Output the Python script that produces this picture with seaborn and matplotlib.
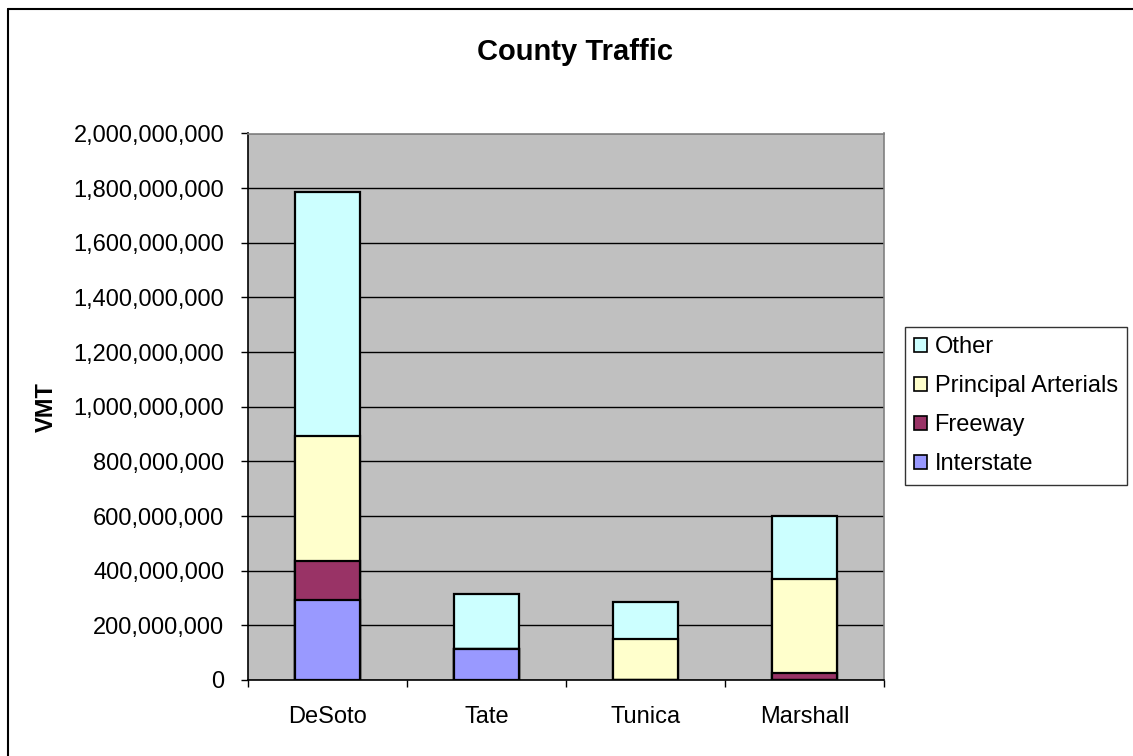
import matplotlib
matplotlib.use("Agg")
import matplotlib.pyplot as plt
import numpy as np
import pandas as pd
import seaborn as sns
from matplotlib.lines import Line2D
from matplotlib.patches import Patch
from matplotlib.ticker import FuncFormatter, FixedLocator

counties = ["DeSoto", "Tate", "Tunica", "Marshall"]
interstate = [293_000_000, 114_000_000, 0, 0]
freeway = [143_000_000, 0, 0, 25_000_000]
principal_arterials = [456_000_000, 0, 149_000_000, 343_000_000]
other = [893_000_000, 200_000_000, 137_000_000, 234_000_000]

series_names = ["Interstate", "Freeway", "Principal Arterials", "Other"]
series_colors = ["#9999FF", "#993366", "#FFFFCC", "#CCFFFF"]
y_ticks = np.arange(0, 2_000_000_001, 200_000_000)

df = pd.DataFrame(
    {"County": counties, "Interstate": interstate, "Freeway": freeway,
     "Principal Arterials": principal_arterials, "Other": other}
)
# cumulative tops, drawn tallest first so each layer covers the one above it
cum = df[series_names].cumsum(axis=1)

sns.set_theme(style="white")
plt.rcParams["font.family"] = ["Liberation Sans", "DejaVu Sans"]

W, H = 1133, 756
fig = plt.figure(figsize=(W / 100, H / 100), dpi=100)
ax = fig.add_axes([248 / W, 1 - 680 / H, 636 / W, (680 - 133.5) / H])
ax.set_facecolor("#C0C0C0")

for name, color in reversed(list(zip(series_names, series_colors))):
    sns.barplot(
        x=df["County"], y=cum[name], ax=ax, color=color, width=0.41,
        edgecolor="black", linewidth=1.6, saturation=1, zorder=3,
    )

ax.set_xlim(-0.5, 3.5)
ax.set_ylim(0, 2_000_000_000)
ax.yaxis.set_major_locator(FixedLocator(y_ticks))
ax.yaxis.set_major_formatter(FuncFormatter(lambda v, p: f"{int(v):,}"))
ax.grid(axis="y", color="black", linewidth=1.0, zorder=1)
ax.set_axisbelow(True)

ax.set_xticks(range(len(counties)))
ax.set_xticklabels(counties)
ax.xaxis.set_minor_locator(FixedLocator(np.arange(-0.5, 4, 1)))
ax.tick_params(axis="x", which="major", length=0, pad=19, labelsize=17, colors="black")
ax.tick_params(axis="x", which="minor", length=5, width=1, color="black", direction="out", bottom=True)
ax.tick_params(axis="y", length=5, width=1, color="black", direction="out", left=True, pad=12,
               labelsize=17, labelcolor="black")

ax.set_xlabel("")
ax.set_ylabel("VMT", fontsize=17, fontweight="bold", color="black")
ax.yaxis.set_label_coords((58 - 248) / 636, 0.5)

for side in ["left", "bottom"]:
    ax.spines[side].set_color("black")
    ax.spines[side].set_linewidth(1.2)
for side in ["top", "right"]:
    ax.spines[side].set_color("#808080")
    ax.spines[side].set_linewidth(1.2)

fig.text(575 / W, 1 - 52 / H, "County Traffic", fontsize=21, fontweight="bold",
         ha="center", va="center", color="black")

handles = [Patch(facecolor=c, edgecolor="black", linewidth=1.2, label=n)
           for n, c in zip(series_names, series_colors)][::-1]
leg = fig.legend(
    handles=handles, loc="upper left", bbox_to_anchor=(905 / W, 1 - 327 / H),
    frameon=True, fancybox=False, fontsize=17, handlelength=0.55, handleheight=0.55,
    handletextpad=0.3, labelspacing=0.72, borderpad=0.4, borderaxespad=0,
    labelcolor="black",
)
leg.get_frame().set_edgecolor("black")
leg.get_frame().set_linewidth(1.0)

# chart-area border: only top and left edges fall inside the picture
fig.add_artist(Line2D([8 / W, 8 / W], [0, 1 - 9 / H], transform=fig.transFigure,
                      color="black", linewidth=1.5))
fig.add_artist(Line2D([8 / W, 1], [1 - 9 / H, 1 - 9 / H], transform=fig.transFigure,
                      color="black", linewidth=1.5))

fig.savefig("out.png", dpi=100)
